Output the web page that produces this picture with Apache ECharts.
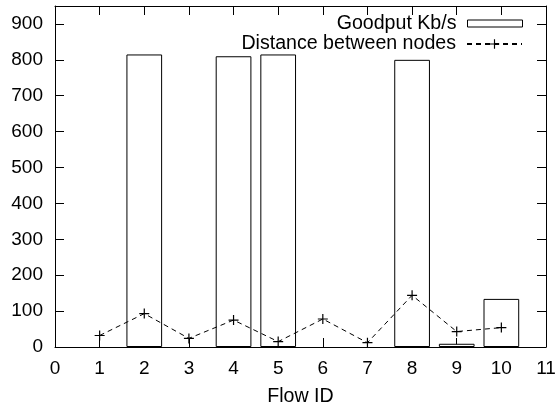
<!DOCTYPE html>
<html>
<head>
<meta charset="utf-8">
<script src="https://cdn.jsdelivr.net/npm/echarts@6/dist/echarts.min.js"></script>
<style>
html,body{margin:0;padding:0;background:#fff;}
#c{width:558px;height:409px;}
</style>
</head>
<body>
<div id="c"></div>
<script>
var flowIds = [1, 2, 3, 4, 5, 6, 7, 8, 9, 10];
var goodput = [0, 815, 0, 810, 815, 0, 0, 800, 9, 134];
var distance = [32, 93, 24, 75, 15, 78, 12, 144, 43, 54];
var xTicks = [0, 1, 2, 3, 4, 5, 6, 7, 8, 9, 10, 11];
var yTicks = [0, 100, 200, 300, 400, 500, 600, 700, 800, 900];

var FONT = '"Liberation Sans", Arial, Helvetica, sans-serif';
var FS = 19;
var FS_TXT = 19.6;

var chart = echarts.init(document.getElementById('c'), null, {renderer: 'canvas'});

var barData = flowIds.map(function (x, i) {
  var item = {value: [x, goodput[i]]};
  if (goodput[i] === 0) { item.itemStyle = {borderWidth: 0, opacity: 0}; }
  return item;
});
var lineData = flowIds.map(function (x, i) { return [x, distance[i]]; });

var plus = 'path://M4.4,0 L5.6,0 L5.6,4.4 L10,4.4 L10,5.6 L5.6,5.6 L5.6,10 L4.4,10 L4.4,5.6 L0,5.6 L0,4.4 L4.4,4.4 Z';

var axisLine = {show: true, onZero: false, lineStyle: {color: '#000', width: 1}};
var tickStyle = {show: true, inside: true, length: 9, lineStyle: {color: '#000', width: 1}};

var option = {
  backgroundColor: '#fff',
  animation: false,
  textStyle: {fontFamily: FONT},
  grid: {left: 55, right: 12, top: 6, bottom: 62, containLabel: false, outerBoundsMode: 'none'},
  legend: [
    {
      data: ['Goodput Kb/s'],
      orient: 'vertical',
      right: 35,
      top: 13.5,
      padding: 0,
      align: 'right',
      icon: 'rect',
      itemWidth: 55,
      itemHeight: 7,
      selectedMode: false,
      itemStyle: {color: '#fff', borderColor: '#000', borderWidth: 1},
      textStyle: {fontFamily: FONT, fontSize: FS_TXT, color: '#000', padding: [0, 6, 0, 0]}
    },
    {
      data: ['Distance between nodes'],
      orient: 'vertical',
      right: 35,
      top: 34,
      padding: 0,
      align: 'right',
      itemWidth: 55,
      itemHeight: 12,
      selectedMode: false,
      textStyle: {fontFamily: FONT, fontSize: FS_TXT, color: '#000', padding: [0, 6, 0, 0]}
    }
  ],
  xAxis: [
    {
      type: 'value',
      min: 0, max: 11, interval: 1,
      position: 'bottom',
      name: 'Flow ID',
      nameLocation: 'middle',
      nameGap: 40,
      nameTextStyle: {fontFamily: FONT, fontSize: FS_TXT, color: '#000'},
      axisLine: axisLine,
      axisTick: tickStyle,
      splitLine: {show: false},
      axisLabel: {fontFamily: FONT, fontSize: FS, color: '#000', margin: 12,
        formatter: function (v) { return xTicks.indexOf(v) >= 0 ? String(v) : ''; }}
    },
    {
      type: 'value',
      min: 0, max: 11, interval: 1,
      position: 'top',
      axisLine: axisLine,
      axisTick: tickStyle,
      splitLine: {show: false},
      axisLabel: {show: false}
    }
  ],
  yAxis: [
    {
      type: 'value',
      min: 0, max: 950, interval: 100,
      position: 'left',
      axisLine: axisLine,
      axisTick: tickStyle,
      splitLine: {show: false},
      axisLabel: {fontFamily: FONT, fontSize: FS, color: '#000', margin: 12,
        formatter: function (v) { return yTicks.indexOf(v) >= 0 ? String(v) : ''; }}
    },
    {
      type: 'value',
      min: 0, max: 950, interval: 100,
      position: 'right',
      axisLine: axisLine,
      axisTick: tickStyle,
      splitLine: {show: false},
      axisLabel: {show: false}
    }
  ],
  series: [
    {
      name: 'Goodput Kb/s',
      type: 'bar',
      xAxisIndex: 0,
      yAxisIndex: 0,
      barWidth: 35.7,
      data: barData,
      itemStyle: {color: '#fff', borderColor: '#000', borderWidth: 1},
      z: 2
    },
    {
      name: 'Distance between nodes',
      type: 'line',
      xAxisIndex: 0,
      yAxisIndex: 0,
      data: lineData,
      symbol: plus,
      symbolSize: 10,
      itemStyle: {color: '#000'},
      lineStyle: {color: '#000', width: 1, type: [5, 4]},
      z: 3
    }
  ]
};
chart.setOption(option);
</script>
</body>
</html>
